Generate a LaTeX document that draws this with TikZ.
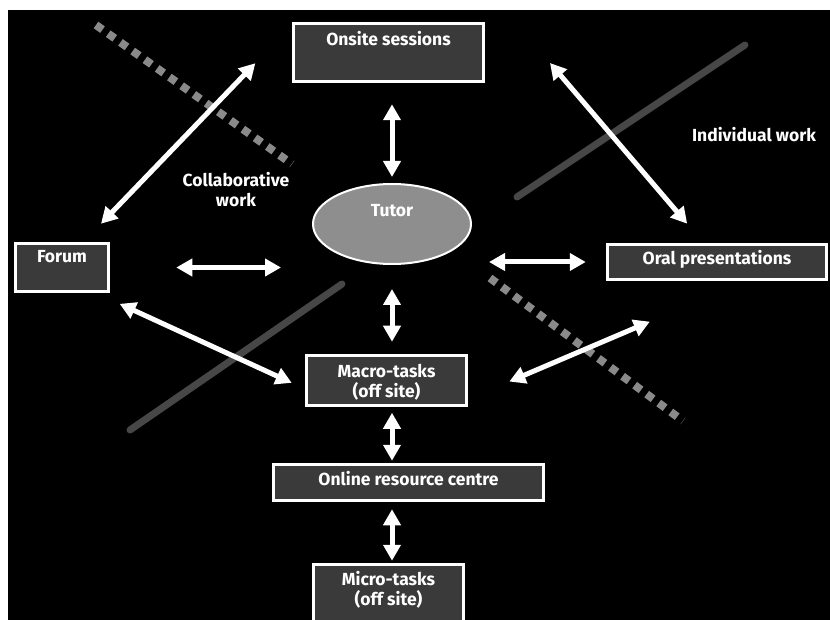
\documentclass[tikz,border=0pt]{standalone}
\usepackage{fontspec}
\setmainfont{Fira Sans}
\usetikzlibrary{positioning,calc,shapes.geometric,arrows.meta}

\definecolor{boxgray}{HTML}{3A3A3A}
\definecolor{tutorgray}{HTML}{8E8E8E}
\definecolor{linegray}{HTML}{474747}
\definecolor{dotgray}{HTML}{8A8A8A}
\newcommand{\lblfont}{\fontsize{17.5}{19.5}\selectfont\bfseries}

\begin{document}
\begin{tikzpicture}[x=1pt, y=-1pt,
    box/.style={draw=white, line width=2.5pt, fill=boxgray, inner sep=0pt, text=white, font=\lblfont, align=center},
    hub/.style={ellipse, draw=white, line width=2pt, fill=tutorgray, inner sep=0pt, text=white, font=\lblfont},
    note/.style={text=white, font=\lblfont, align=center, inner sep=0pt},
    twoway/.style={draw=white, line width=5pt, {Triangle[length=16pt,width=17pt]}-{Triangle[length=16pt,width=17pt]}},
    solidiv/.style={draw=linegray, line width=7pt, line cap=round},
    dotdiv/.style={draw=dotgray, line width=8pt, dash pattern=on 8pt off 7pt}]

\useasboundingbox (0,0) rectangle (830,620);
\fill[white] (0,0) rectangle (830,620);
\fill[black] (7.5,10) rectangle (830,620);

% dividing lines
\draw[dotdiv] (96,25) -- (292,164);
\draw[dotdiv] (490,278) -- (683,421);
\draw[solidiv] (745,45) -- (517,197);
\draw[solidiv] (130,430) -- (342,284);

% boxes
\node[box, minimum width=190pt, text height=22.5pt, text depth=35.5pt] (onsite) at (388.5,52.5) {Onsite sessions};
\node[box, minimum width=93pt, text height=19.5pt, text depth=28.5pt] (forum) at (62,267.5) {Forum};
\node[box, minimum width=219pt, text height=20.5pt, text depth=14.5pt] (oral) at (717,262) {Oral presentations};
\node[box, minimum width=160pt, text height=41.5pt, text depth=8.5pt] (macro) at (386.5,380.5) {Macro-tasks\\(off site)};
\node[box, minimum width=270pt, text height=20.5pt, text depth=15.5pt] (online) at (408.5,482.5) {Online resource centre};
\node[box, minimum width=150pt, text height=40.5pt, text depth=27pt] (micro) at (388.5,598.25) {Micro-tasks\\(off site)};
\node[hub, minimum width=158pt, minimum height=80pt, text height=10pt, text depth=24pt] (tutor) at (392,224) {Tutor};

\node[note] (collab) at (236,189.5) {Collaborative\\work};
\node[note, anchor=base] (indiv) at (754,142) {Individual work};
\coordinate (indtip) at (550,63);

% arrows
\draw[twoway, shorten <=21.5pt, shorten >=6pt] (onsite.south -| tutor.north) -- (tutor.north);
\draw[twoway, shorten <=24pt, shorten >=12.5pt] (tutor.south) -- (tutor.south |- macro.north);
\draw[twoway, shorten <=6pt, shorten >=2.5pt] (tutor.south |- macro.south) -- (tutor.south |- online.north);
\draw[twoway, shorten <=7.5pt, shorten >=2.5pt] (tutor.south |- online.south) -- (tutor.south |- micro.north);
\draw[twoway, shorten <=66.5pt, shorten >=31pt] (forum.east) -- (forum.east -| tutor.west);
\draw[twoway, shorten <=17pt, shorten >=20.5pt] (oral.west -| tutor.east) -- (oral.west);
\draw[twoway, shorten <=25.7pt, shorten >=53.2pt] (forum.50) -- (onsite.164);
\draw[twoway, shorten <=26.6pt, shorten >=14.9pt] (forum.-37) -- (macro.-174);
\draw[twoway, shorten <=45.2pt, shorten >=104.4pt] (macro.-13) -- (oral.-33);
\draw[twoway, shorten >=25.7pt] (indtip) -- (oral.125);

\end{tikzpicture}
\end{document}
